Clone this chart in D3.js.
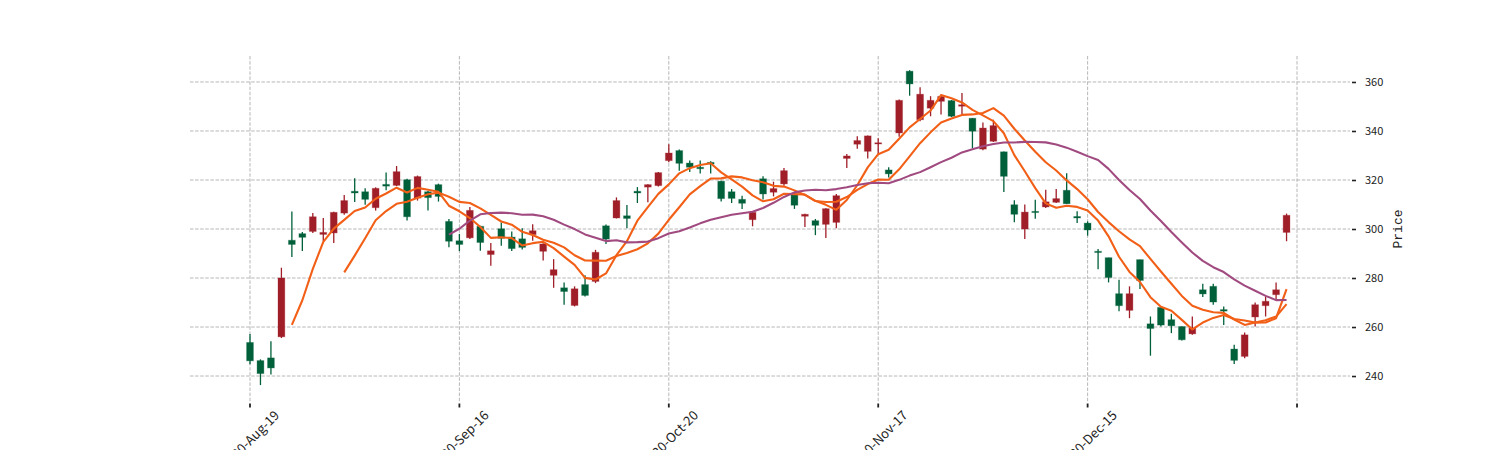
<!DOCTYPE html>
<html>
<head>
<meta charset="utf-8">
<script src="https://cdn.jsdelivr.net/npm/d3@7"></script>
<style>
  html, body { margin: 0; padding: 0; background: #fff; }
  svg { display: block; }
</style>
</head>
<body>
<svg id="chart" width="1500" height="450"></svg>
<script>
// ---- data ----
const openP  = [253.7,246.3,247.4,256.0,295.4,298.1,299.0,297.8,298.4,306.5,
                315.4,315.2,308.7,318.2,317.8,320.1,312.6,315.2,318.1,303.1,
                295.2,296.4,301.1,289.6,300.1,296.7,296.0,297.7,290.9,281.1,
                276.0,268.8,277.3,278.6,301.3,304.5,305.4,315.4,317.1,317.7,
                327.9,332.0,326.9,325.2,327.2,319.5,315.2,312.1,303.8,320.5,
                315.0,318.4,314.3,305.2,303.4,301.9,302.7,328.8,334.6,331.7,
                334.7,324.1,339.2,364.4,344.6,349.3,352.1,352.4,350.1,345.2,
                332.6,335.8,331.5,309.9,300.0,307.2,309.0,310.9,315.8,305.1,
                302.4,290.9,288.3,273.6,266.8,287.5,261.3,268.0,263.0,260.2,
                257.2,275.2,276.6,267.1,251.0,248.0,264.1,268.7,273.2,298.6];
const highP  = [257.2,246.8,254.2,284.2,307.1,298.8,306.5,304.5,307.0,313.9,
                320.7,316.6,317.0,323.1,325.7,320.5,321.8,315.5,318.5,304.1,
                298.0,309.0,301.3,294.3,302.7,299.0,300.3,301.9,294.2,287.7,
                278.2,276.6,281.1,291.5,301.8,312.9,309.8,317.1,318.3,323.3,
                334.6,332.4,328.0,328.0,327.6,319.7,316.3,313.6,307.0,321.5,
                319.3,324.9,314.5,306.2,304.1,308.5,314.3,330.6,337.8,338.2,
                337.0,325.2,352.8,364.8,357.8,354.2,354.8,352.6,355.5,345.3,
                343.5,344.6,331.6,311.7,310.0,311.9,316.0,316.3,322.8,307.2,
                303.1,291.8,288.3,279.3,276.6,287.5,264.3,268.0,265.4,260.2,
                264.3,277.7,277.7,268.4,252.8,257.8,270.0,272.5,278.2,306.3];
const lowP   = [244.8,236.3,240.6,255.5,288.6,291.0,298.4,295.0,294.3,305.8,
                311.0,309.9,307.5,315.8,317.5,303.5,311.6,307.5,311.2,292.6,
                291.0,295.9,291.1,285.0,293.2,291.0,291.6,295.2,287.1,276.0,
                269.1,268.4,272.5,277.9,293.9,304.3,300.3,310.6,310.9,317.3,
                327.2,323.8,323.3,322.6,322.6,311.2,310.6,308.2,301.1,312.0,
                313.3,317.7,308.2,300.8,297.5,296.3,300.3,324.9,332.7,328.8,
                330.3,321.0,337.6,354.4,344.0,346.0,346.7,345.7,346.2,333.0,
                332.1,335.5,315.1,302.8,295.9,304.2,308.6,310.6,310.3,302.4,
                297.3,283.6,278.2,266.4,263.6,275.5,248.3,260.2,257.5,254.5,
                256.8,272.2,269.1,260.8,244.9,247.3,260.2,264.3,271.1,295.0];
const closeP = [246.2,241.0,243.3,280.0,293.7,296.6,305.0,298.6,306.8,311.6,
                314.7,312.1,316.6,317.5,323.4,305.0,321.4,312.8,313.3,295.0,
                293.7,307.6,294.5,291.1,296.2,292.0,292.5,299.3,293.9,283.4,
                274.5,275.6,272.9,290.5,295.9,311.6,304.3,314.7,318.1,323.0,
                331.0,326.8,325.2,324.6,326.5,312.4,312.5,310.5,306.8,314.3,
                316.5,323.8,309.7,306.0,301.5,308.3,313.6,329.8,336.1,338.0,
                335.2,322.5,352.5,359.2,355.0,352.5,354.1,346.0,350.7,339.9,
                341.2,342.2,321.5,306.0,306.9,306.8,311.1,312.4,310.3,304.5,
                299.6,290.4,280.2,268.7,273.6,279.0,259.4,260.8,260.5,254.8,
                259.6,273.5,270.2,266.5,246.4,256.8,269.1,270.5,275.2,305.6];
const mavPeriods = [5, 10, 20];
const xTickIndex = [0, 20, 40, 60, 80, 100];
const xTickLabels = ["2020-Aug-19", "2020-Sep-16", "2020-Oct-20", "2020-Nov-17", "2020-Dec-15", ""];
const yTicks = [240, 260, 280, 300, 320, 340, 360];
const yLabel = "Price";

// ---- styles ----
const upColor = "#a01e28", downColor = "#00603a";
const mavColors = ["#f25f17", "#f25f17", "#a04a80"];
const gridColor = "#a4a4a4";

const svg = d3.select("#chart");
const plot = { left: 190, right: 1350, top: 56, bottom: 402 };

const x = d3.scaleLinear().domain([-5.73, 105.06]).range([plot.left, plot.right]);
const y = d3.scaleLinear().domain([229.4, 370.6]).range([plot.bottom, plot.top]);

// grid
const grid = svg.append("g");
grid.selectAll("line.h").data(yTicks).join("line")
  .attr("x1", plot.left).attr("x2", plot.right)
  .attr("y1", d => y(d)).attr("y2", d => y(d))
  .attr("stroke", gridColor).attr("stroke-width", 0.8).attr("stroke-dasharray", "3.5,1.6");
grid.selectAll("line.v").data(xTickIndex).join("line")
  .attr("x1", d => x(d)).attr("x2", d => x(d))
  .attr("y1", plot.top).attr("y2", plot.bottom)
  .attr("stroke", gridColor).attr("stroke-width", 0.8).attr("stroke-dasharray", "3.5,1.6");

// candles
const idx = d3.range(closeP.length);
const bw = (x(1) - x(0)) * 0.65;
const cg = svg.append("g");
cg.selectAll("line.wick").data(idx).join("line")
  .attr("x1", i => x(i)).attr("x2", i => x(i))
  .attr("y1", i => y(highP[i])).attr("y2", i => y(lowP[i]))
  .attr("stroke", i => closeP[i] >= openP[i] ? upColor : downColor)
  .attr("stroke-width", 1.3);
cg.selectAll("rect").data(idx).join("rect")
  .attr("x", i => x(i) - bw / 2).attr("width", bw)
  .attr("y", i => y(Math.max(openP[i], closeP[i])))
  .attr("height", i => Math.max(1.2, Math.abs(y(openP[i]) - y(closeP[i]))))
  .attr("fill", i => closeP[i] >= openP[i] ? upColor : downColor)
  .attr("stroke", i => closeP[i] >= openP[i] ? upColor : downColor)
  .attr("stroke-opacity", 0.3).attr("stroke-width", 1);

// moving averages (rolling mean of closes, as the original chart does)
mavPeriods.forEach((p, k) => {
  const pts = [];
  for (let i = p - 1; i < closeP.length; i++) {
    pts.push([i, d3.mean(closeP.slice(i - p + 1, i + 1))]);
  }
  svg.append("path").datum(pts)
    .attr("d", d3.line().x(d => x(d[0])).y(d => y(d[1])))
    .attr("fill", "none").attr("stroke", mavColors[k]).attr("stroke-width", 2.1)
    .attr("stroke-linejoin", "round");
});

// right y axis
const ya = svg.append("g").attr("transform", `translate(${plot.right},0)`)
  .call(d3.axisRight(y).tickValues(yTicks).tickSize(6).tickPadding(9).tickFormat(d3.format("d")));
ya.select(".domain").remove();
ya.selectAll(".tick line").attr("stroke", "#222").attr("stroke-width", 1.6).attr("x1", 2).attr("x2", 6);
ya.selectAll(".tick text").attr("font-family", "'Noto Sans CJK SC', 'DejaVu Sans', sans-serif")
  .attr("font-size", 11).attr("fill", "#222");

// bottom x axis ticks
const xa = svg.append("g").attr("transform", `translate(0,${plot.bottom})`);
xa.selectAll("line").data(xTickIndex).join("line")
  .attr("x1", d => x(d)).attr("x2", d => x(d)).attr("y1", 1.5).attr("y2", 5.5)
  .attr("stroke", "#222").attr("stroke-width", 1.8);
xa.selectAll("text").data(xTickIndex).join("text")
  .attr("transform", d => `translate(${x(d) + 27},${11}) rotate(-45)`)
  .attr("text-anchor", "end").attr("dy", "0.35em")
  .attr("font-family", "'Noto Sans CJK SC', 'DejaVu Sans', sans-serif")
  .attr("font-size", 13).attr("fill", "#222")
  .text((d, i) => xTickLabels[i]);

// y label
svg.append("text")
  .attr("transform", `translate(1397,229) rotate(-90)`)
  .attr("text-anchor", "middle").attr("dy", "0.35em")
  .attr("font-family", "'Liberation Mono', 'DejaVu Sans Mono', monospace")
  .attr("font-size", 13).attr("fill", "#222")
  .text(yLabel);
</script>
</body>
</html>
